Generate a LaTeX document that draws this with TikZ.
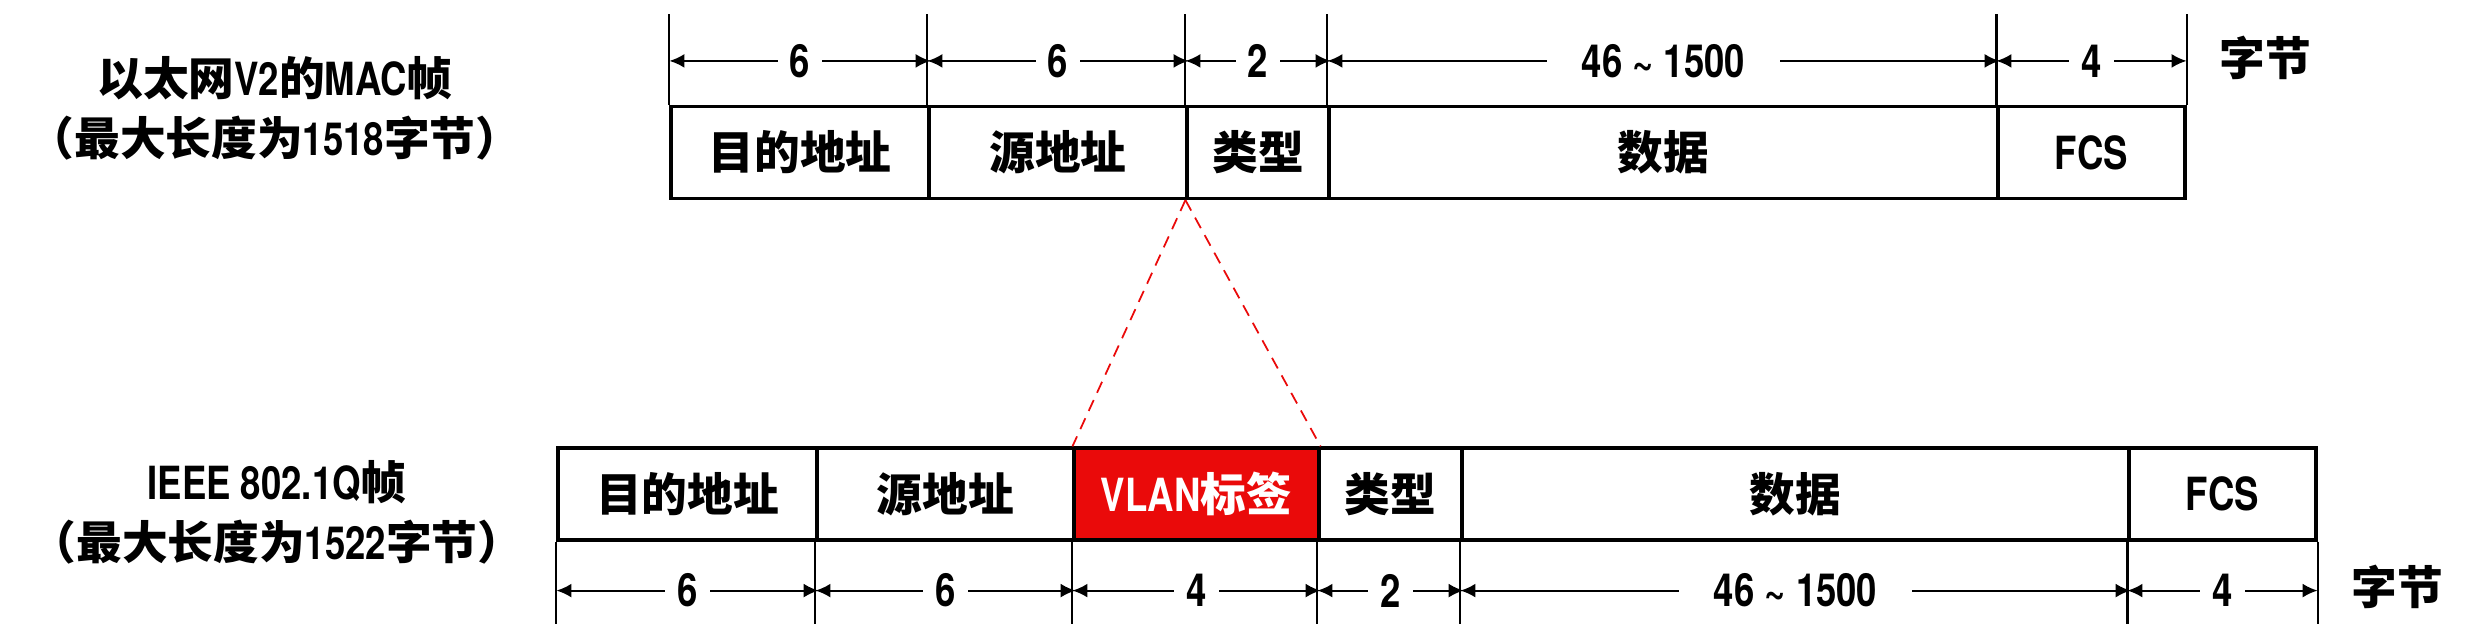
\documentclass[tikz,border=0pt]{standalone}
\usepackage{fontspec}
\setmainfont{TeX Gyre Heros}[FakeStretch=0.8]
\newfontfamily\cjk{Noto Sans CJK SC}
\newcommand{\zh}[1]{{\cjk #1}}
\usetikzlibrary{arrows.meta}
\definecolor{tagred}{RGB}{234,10,10}
\tikzset{
  field/.style={draw,line width=0.9pt,minimum height=0.92cm,inner sep=0pt,
    font=\fontsize{13}{16}\selectfont\bfseries},
  ext/.style={line width=0.6pt},
  dim/.style={{Latex[length=0.15cm,width=0.14cm]}-{Latex[length=0.15cm,width=0.14cm]},line width=0.6pt},
  lbl/.style={fill=white,inner xsep=0.12cm,inner ysep=0pt,font=\fontsize{13}{16}\selectfont\bfseries},
  title/.style={align=center,font=\fontsize{13}{17}\selectfont\bfseries}
}
\begin{document}
\begin{tikzpicture}
\useasboundingbox (0,0) rectangle (24.8,6.32);
% Ethernet V2 frame
\node[title] (ttitle) at (2.75,5.24) {\zh{以太网}V2\zh{的}MAC\zh{帧}\\\zh{（最大长度为}1518\zh{字节）}};
\node[field,minimum width=2.58cm] (tdst) at (8.00,4.795) {\zh{目的地址}};
\node[field,minimum width=2.58cm] (tsrc) at (10.58,4.795) {\zh{源地址}};
\node[field,minimum width=1.42cm] (ttype) at (12.58,4.795) {\zh{类型}};
\node[field,minimum width=6.69cm] (tdata) at (16.635,4.795) {\zh{数据}};
\node[field,minimum width=1.87cm] (tfcs) at (20.915,4.795) {FCS};
\foreach \f/\v/\s in {tdst/6/0.12cm,tsrc/6/0.12cm,ttype/2/0.12cm,tdata/{46 \textasciitilde{} 1500}/0.35cm,tfcs/4/0.12cm}{
  \draw[ext] (\f.north west) -- ++(0,0.91);
  \draw[dim] ([yshift=0.44cm]\f.north west) -- node[lbl,inner xsep=\s]{\v} ([yshift=0.44cm]\f.north east);
}
\draw[ext] (tfcs.north east) -- ++(0,0.91);
\node[lbl,fill=none] (tunit) at (22.65,5.74) {\zh{字节}};
% IEEE 802.1Q frame
\node[title] (btitle) at (2.77,1.195) {IEEE 802.1Q\zh{帧}\\\zh{（最大长度为}1522\zh{字节）}};
\node[field,minimum width=2.59cm] (bdst) at (6.875,1.38) {\zh{目的地址}};
\node[field,minimum width=2.57cm] (bsrc) at (9.455,1.38) {\zh{源地址}};
\node[field,minimum width=2.45cm,fill=tagred,text=white] (bvlan) at (11.965,1.38) {VLAN\zh{标签}};
\node[field,minimum width=1.43cm] (btype) at (13.905,1.38) {\zh{类型}};
\node[field,minimum width=6.67cm] (bdata) at (17.955,1.38) {\zh{数据}};
\node[field,minimum width=1.87cm] (bfcs) at (22.225,1.38) {FCS};
\foreach \f/\v/\s in {bdst/6/0.12cm,bsrc/6/0.12cm,bvlan/4/0.12cm,btype/2/0.12cm,bdata/{46 \textasciitilde{} 1500}/0.35cm,bfcs/4/0.12cm}{
  \draw[ext] (\f.south west) -- ++(0,-0.82);
  \draw[dim] ([yshift=-0.49cm]\f.south west) -- node[lbl,inner xsep=\s]{\v} ([yshift=-0.49cm]\f.south east);
}
\draw[ext] (bfcs.south east) -- ++(0,-0.82);
\node[lbl,fill=none] (bunit) at (23.97,0.45) {\zh{字节}};
% tag inserted
\draw[tagred,line width=0.5pt,dash pattern=on 0.12cm off 0.08cm] (ttype.south west) -- (bvlan.north west);
\draw[tagred,line width=0.5pt,dash pattern=on 0.12cm off 0.08cm] (ttype.south west) -- (bvlan.north east);
\end{tikzpicture}
\end{document}
